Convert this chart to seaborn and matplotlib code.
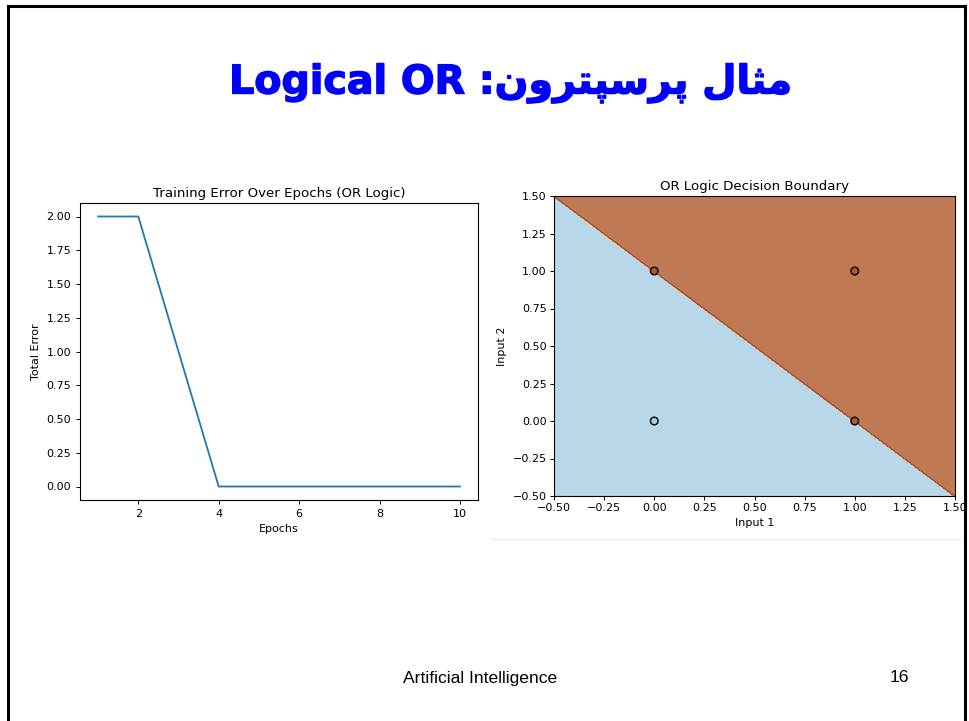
import numpy as np
import matplotlib.pyplot as plt
import seaborn as sns
from matplotlib.lines import Line2D
from matplotlib.patches import Rectangle
import matplotlib.patheffects as pe

# training error per epoch
epochs = [1, 2, 3, 4, 5, 6, 7, 8, 9, 10]
total_error = [2, 2, 1, 0, 0, 0, 0, 0, 0, 0]

# OR inputs / targets and the learned perceptron weights
input1 = [0, 0, 1, 1]
input2 = [0, 1, 0, 1]
target = [0, 1, 1, 1]
w1, w2, bias = 1.0, 1.0, -1.0

# Persian part written in visual order with presentation forms (matplotlib has no shaping)
title_fa = "\uFEE5\uFEED\uFEAE\uFE98\uFB59\uFEB3\uFEAE\uFB58 \uFEDD\uFE8E\uFE9C\uFEE3"
title_en = "Logical OR :"
footer_left = "Artificial Intelligence"
footer_right = "16"

W, H = 969, 721
fig = plt.figure(figsize=(W / 100, H / 100), dpi=100)
fig.patch.set_facecolor("white")

def fx(px):
    return px / W

def fy(py):
    return 1 - py / H

plt.rcParams.update({"font.size": 8, "axes.linewidth": 0.8,
                     "xtick.major.size": 2.8, "ytick.major.size": 2.8,
                     "xtick.major.width": 0.7, "ytick.major.width": 0.7})

# ---- left: training error
ax1 = fig.add_axes([fx(80), fy(500), fx(478) - fx(80), fy(203) - fy(500)])
sns.lineplot(x=epochs, y=total_error, ax=ax1, color="#1f77b4", linewidth=1.3)
ax1.set_title("Training Error Over Epochs (OR Logic)", fontsize=9.6, pad=4)
ax1.set_xlabel("Epochs", fontsize=8)
ax1.set_ylabel("Total Error", fontsize=8)
ax1.tick_params(labelsize=8)
yt = [0, 0.25, 0.5, 0.75, 1.0, 1.25, 1.5, 1.75, 2.0]
ax1.set_yticks(yt)
ax1.set_yticklabels([f"{v:.2f}" for v in yt])

# ---- right: decision boundary
ax2 = fig.add_axes([fx(554), fy(496), fx(955) - fx(554), fy(196) - fy(496)])
gx = np.linspace(-0.5, 1.5, 201)
xx, yy = np.meshgrid(gx, gx)
zz = (w1 * xx + w2 * yy + bias >= -1e-9).astype(float)
ax2.contourf(xx, yy, zz, alpha=0.8, cmap="Paired")
sns.scatterplot(x=input1, y=input2, hue=target, palette={0: "#a6cee3", 1: "#b15928"},
                edgecolor="k", linewidth=1.0, s=30, legend=False, ax=ax2, zorder=3)
ax2.set_xlim(-0.5, 1.5)
ax2.set_ylim(-0.5, 1.5)
ticks = [-0.5, -0.25, 0, 0.25, 0.5, 0.75, 1.0, 1.25, 1.5]
ax2.set_xticks(ticks)
ax2.set_yticks(ticks)
ax2.set_xticklabels([f"{v:.2f}".replace("-", "\u2212") for v in ticks])
ax2.set_yticklabels([f"{v:.2f}".replace("-", "\u2212") for v in ticks])
ax2.tick_params(labelsize=8, pad=2.5)
ax2.set_title("OR Logic Decision Boundary", fontsize=9.6, pad=4)
ax2.set_xlabel("Input 1", fontsize=8, labelpad=3)
ax2.set_ylabel("Input 2", fontsize=8)

# faint edge of the pasted picture
fig.add_artist(Line2D([fx(491), fx(964)], [fy(539), fy(539)], color="#eeeeee", lw=0.8))

# slide title
fig.text(fx(511), fy(83), title_en + title_fa, ha="center", va="center",
         fontsize=28.5, fontweight="bold", color="#0000ff", family=["DejaVu Sans"],
         path_effects=[pe.withStroke(linewidth=1.0, foreground="#0000ff")])

# footer
fig.text(fx(480), fy(678), footer_left, ha="center", va="center",
         fontsize=12.6, family=["Liberation Sans"])
fig.text(fx(899), fy(678), footer_right, ha="center", va="center",
         fontsize=12.6, family=["Liberation Sans"])

# slide frame (covers the clipped tick label on the right)
fig.add_artist(Rectangle((fx(966), 0), 1 - fx(966), 1, transform=fig.transFigure,
                         facecolor="white", edgecolor="none", zorder=10))
for x0, y0, x1, y1 in [(8, 6, 964.5, 6), (8, 6, 8, 721), (964.5, 6, 964.5, 721)]:
    fig.add_artist(Line2D([fx(x0), fx(x1)], [fy(y0), fy(y1)], color="black", lw=2.2, zorder=11))

fig.savefig("out.png", dpi=100)
